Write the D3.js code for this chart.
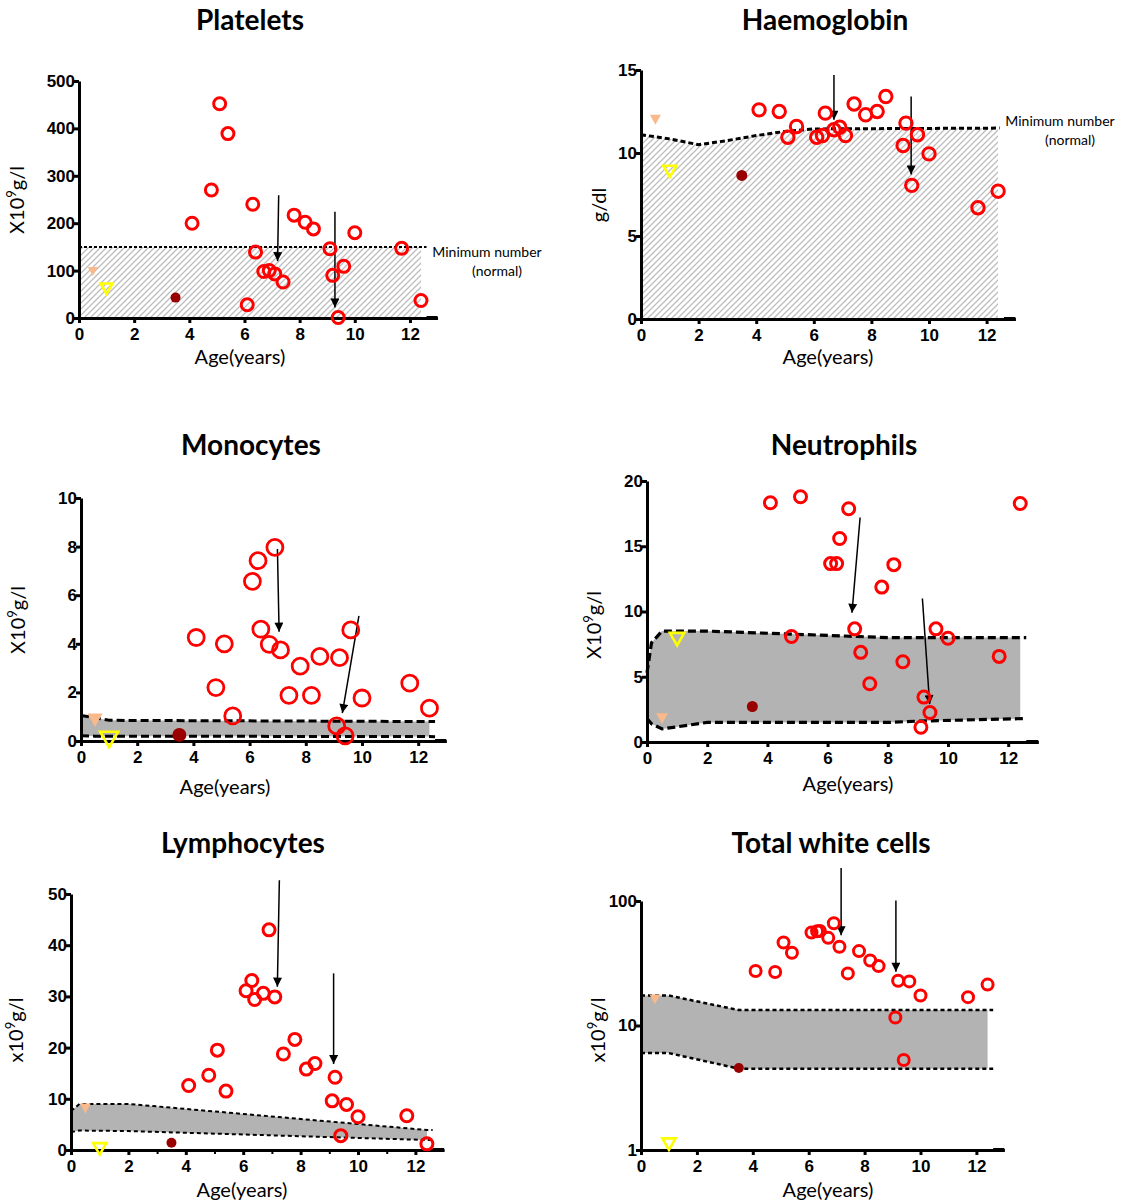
<!DOCTYPE html>
<html>
<head>
  <meta charset="utf-8">
  <title>Blood counts by age</title>
  <style>
    body { margin: 0; background: #fff; }
    svg text { fill: #000; }
    .tick text { font-family: "Liberation Sans", Arial, sans-serif; font-weight: bold; font-size: 17px; }
    .title { font-family: Lato, "Open Sans", sans-serif; font-weight: bold; font-size: 28px; }
    .lab { font-family: Lato, "Open Sans", sans-serif; font-size: 20px; }
    .note { font-family: Lato, "Open Sans", sans-serif; font-size: 14px; }
  </style>
  <script src="https://d3js.org/d3.v7.min.js"></script>
</head>
<body>
<script>
// ages of the 21 follow-up samples (red circles)
const ages = [4.1, 4.8, 5.1, 5.4, 6.1, 6.3, 6.4, 6.7, 6.9, 7.1, 7.4, 7.8, 8.2, 8.5, 9.1, 9.2, 9.4, 9.6, 10.0, 11.7, 12.4];
// early samples: orange triangle, yellow open triangle, dark red dot
const earlyAges = [0.5, 1.0, 3.5];

const plateletVals = [200, 270, 452, 389, 28, 240, 139, 98, 100, 93, 76, 217, 202, 188, 146, 90, 1, 109, 180, 147, 37];
const plateletEarly = [98, 62, 43];
const haemoVals = [12.6, 12.5, 10.95, 11.6, 10.95, 11.05, 12.4, 11.4, 11.55, 11.05, 12.95, 12.3, 12.5, 13.4, 10.45, 11.8, 8.05, 11.1, 9.95, 6.7, 7.7];
const haemoEarly = [12.0, 8.9, 8.65];
const monoVals = [4.26, 2.2, 4.0, 1.03, 6.57, 7.42, 4.6, 3.98, 7.97, 3.75, 1.88, 3.08, 1.88, 3.48, 0.62, 3.43, 0.21, 4.57, 1.77, 2.38, 1.35];
const monoEarly = [0.85, 0.07, 0.25];
const neutroVals = [18.33, 8.08, 18.79, null, 13.67, 13.67, 15.59, 17.87, 8.67, 6.87, 4.46, 11.87, 13.59, 6.15, 1.13, 3.44, 2.26, 8.67, 7.95, 6.56, 18.28];
const neutroEarly = [1.79, 7.9, 2.72];
const lymphoVals = [12.6, 14.6, 19.5, 11.5, 31.1, 33.1, 29.4, 30.6, 43.0, 29.9, 18.75, 21.6, 15.8, 16.9, 9.6, 14.2, 2.8, 8.9, 6.5, 6.7, 1.2];
const lymphoEarly = [8.1, 0.26, 1.43];
const wbcVals = [27.4, 26.9, 46.4, 38.4, 55.8, 57.2, 57.5, 50.6, 66.3, 42.9, 26.2, 39.6, 33.3, 30.0, 11.6, 22.9, 5.28, 22.6, 17.4, 16.9, 21.3];
const wbcEarly = [16.2, 1.12, 4.56];

// normal ranges
const plateletRefX = [0, 12.6];
const plateletRefMin = [150, 150];
const haemoRefX = [0, 1, 2, 3, 4, 5, 6, 12.45];
const haemoRefMin = [11.1, 10.85, 10.5, 10.75, 11.05, 11.3, 11.45, 11.5];
const monoRefX = [0, 0.5, 1, 12.6];
const monoRefHigh = [1.05, 0.95, 0.85, 0.8];
const monoRefLow = [0.22, 0.2, 0.2, 0.18];
const neutroRefX = [0, 0.15, 0.5, 2, 8, 9, 12.6];
const neutroRefHigh = [5.3, 7.6, 8.5, 8.5, 8.0, 8.0, 8.0];
const neutroRefLow = [1.8, 1.4, 1.0, 1.5, 1.5, 1.6, 1.8];
const lymphoRefX = [0, 0.3, 2, 12.4, 12.6];
const lymphoRefHigh = [7.6, 9.0, 9.0, 3.9, 3.9];
const lymphoRefLow = [3.5, 3.8, 3.7, 1.95, 1.95];
const wbcRefX = [0, 1, 3.5, 12.6];
const wbcRefHigh = [17.4, 17.4, 13.3, 13.3];
const wbcRefLow = [6.0, 6.0, 4.5, 4.5];

// arrows [x1, y1, x2, y2]
const plateletArrows = [[7.24, 259, 7.2, 120], [9.28, 224, 9.28, 22]];
const haemoArrows = [[6.7, 14.7, 6.7, 12.0], [9.38, 13.4, 9.38, 8.7]];
const monoArrows = [[6.99, 7.9, 7.05, 4.5], [9.89, 5.15, 9.3, 1.15]];
const neutroArrows = [[7.08, 17.2, 6.81, 9.9], [9.15, 11.0, 9.39, 2.9]];
const lymphoArrows = [[7.26, 52.7, 7.19, 31.9], [9.15, 34.5, 9.15, 16.8]];
const wbcArrows = [[7.16, 184, 7.16, 53], [9.12, 101, 9.12, 27]];

const xTicks = [0, 2, 4, 6, 8, 10, 12];

const panels = [
  { title: "Platelets", tx: 250, ty: 30, x0: 79, pxYr: 27.58, yTop: 81, yBot: 318, yMax: 500, yTicks: [0, 100, 200, 300, 400, 500],
    ylab: ["X10", "g/l"], ylx: 24, yly: 200, agex: 240, agey: 364,
    vals: plateletVals, early: plateletEarly, refX: plateletRefX, refHigh: plateletRefMin, hatch: true,
    arrows: plateletArrows, r: 6, sw: 3, tri: 10, dot: 5, dash: "3,2", dw: 2, note: [487, 257] },
  { title: "Haemoglobin", tx: 825, ty: 30, x0: 641, pxYr: 28.8, yTop: 70, yBot: 319, yMax: 15, yTicks: [0, 5, 10, 15],
    ylab: ["g/dl"], ylx: 606, yly: 205, agex: 828, agey: 364,
    vals: haemoVals, early: haemoEarly, refX: haemoRefX, refHigh: haemoRefMin, hatch: true,
    arrows: haemoArrows, r: 6.2, sw: 3, tri: 11, dot: 5.5, dash: "5,3", dw: 3, note: [1060, 126] },
  { title: "Monocytes", tx: 251, ty: 455, x0: 81, pxYr: 28.1, yTop: 498, yBot: 741, yMax: 10, yTicks: [0, 2, 4, 6, 8, 10],
    ylab: ["X10", "g/l"], ylx: 25, yly: 620, agex: 225, agey: 794,
    vals: monoVals, early: monoEarly, refX: monoRefX, refHigh: monoRefHigh, refLow: monoRefLow,
    arrows: monoArrows, r: 8, sw: 2.8, tri: 15, dot: 7, dash: "8,4", dw: 3 },
  { title: "Neutrophils", tx: 844, ty: 455, x0: 647, pxYr: 30.1, yTop: 481, yBot: 742, yMax: 20, yTicks: [0, 5, 10, 15, 20],
    ylab: ["X10", "g/l"], ylx: 601, yly: 625, agex: 848, agey: 791,
    vals: neutroVals, early: neutroEarly, refX: neutroRefX, refHigh: neutroRefHigh, refLow: neutroRefLow,
    arrows: neutroArrows, r: 6, sw: 3, tri: 12, dot: 5.5, dash: "8,4", dw: 3.2 },
  { title: "Lymphocytes", tx: 243, ty: 853, x0: 71, pxYr: 28.7, yTop: 894, yBot: 1150, yMax: 50, yTicks: [0, 10, 20, 30, 40, 50],
    ylab: ["x10", "g/l"], ylx: 23, yly: 1030, agex: 242, agey: 1197,
    vals: lymphoVals, early: lymphoEarly, refX: lymphoRefX, refHigh: lymphoRefHigh, refLow: lymphoRefLow,
    arrows: lymphoArrows, r: 6, sw: 3, tri: 11, dot: 5, dash: "4,3", dw: 2, minor: true },
  { title: "Total white cells", tx: 831, ty: 853, x0: 641, pxYr: 27.95, yTop: 901, yBot: 1150, yMin: 1, yMax: 100, yTicks: [1, 10, 100], log: true,
    ylab: ["x10", "g/l"], ylx: 605, yly: 1030, agex: 828, agey: 1197,
    vals: wbcVals, early: wbcEarly, refX: wbcRefX, refHigh: wbcRefHigh, refLow: wbcRefLow,
    arrows: wbcArrows, r: 5.5, sw: 3, tri: 11, dot: 5, dash: "4,3", dw: 2.5 }
];

const svg = d3.select("body").append("svg").attr("width", 1125).attr("height", 1203);
const defs = svg.append("defs");
const hatch = defs.append("pattern").attr("id", "hatch").attr("patternUnits", "userSpaceOnUse")
  .attr("width", 6).attr("height", 6);
hatch.append("path").attr("d", "M-1,1 l2,-2 M0,6 l6,-6 M5,7 l2,-2")
  .attr("stroke", "#bdbdbd").attr("stroke-width", 1.3);
defs.append("marker").attr("id", "head").attr("viewBox", "0 0 10 10").attr("refX", 10).attr("refY", 5)
  .attr("markerWidth", 7).attr("markerHeight", 6).attr("markerUnits", "strokeWidth").attr("orient", "auto")
  .append("path").attr("d", "M0,0 L10,5 L0,10 z").attr("fill", "#000");

panels.forEach((p, i) => {
  const g = svg.append("g");
  const x = d3.scaleLinear().domain([0, 13]).range([p.x0, p.x0 + 13 * p.pxYr]);
  const y = p.log
    ? d3.scaleLog().domain([p.yMin, p.yMax]).range([p.yBot, p.yTop])
    : d3.scaleLinear().domain([0, p.yMax]).range([p.yBot, p.yTop]);
  const base = p.log ? p.yMin : 0;

  // clip the normal-range fill at 12.4 years
  defs.append("clipPath").attr("id", "clip" + i).append("rect")
    .attr("x", x(0)).attr("y", 0).attr("width", x(12.4) - x(0)).attr("height", 1203);

  const ref = p.refX.map((d, k) => ({ x: d, hi: p.refHigh[k], lo: p.refLow ? p.refLow[k] : base }));
  const area = d3.area().x(d => x(d.x)).y0(d => y(d.lo)).y1(d => y(d.hi));
  g.append("path").datum(ref).attr("d", area)
    .attr("fill", p.hatch ? "url(#hatch)" : "#b3b3b3")
    .attr("clip-path", `url(#clip${i})`);

  const line = d3.line().x(d => x(d.x));
  g.append("path").datum(ref).attr("d", line.y(d => y(d.hi)))
    .attr("fill", "none").attr("stroke", "#000").attr("stroke-width", p.dw).attr("stroke-dasharray", p.dash);
  if (p.refLow) {
    g.append("path").datum(ref).attr("d", d3.line().x(d => x(d.x)).y(d => y(d.lo)))
      .attr("fill", "none").attr("stroke", "#000").attr("stroke-width", p.dw).attr("stroke-dasharray", p.dash);
  }

  // axes
  const yAxis = d3.axisLeft(y).tickValues(p.yTicks).tickSize(5).tickSizeOuter(0).tickPadding(-1)
    .tickFormat(d3.format("d"));
  const ya = g.append("g").attr("transform", `translate(${p.x0},0)`).call(yAxis);
  const xAxis = d3.axisBottom(x).tickValues(xTicks).tickSize(5).tickSizeOuter(0).tickPadding(3);
  const xa = g.append("g").attr("transform", `translate(0,${p.yBot})`).call(xAxis);
  [ya, xa].forEach(a => {
    a.select(".domain").attr("stroke-width", 3);
    a.selectAll(".tick line").attr("stroke-width", 3);
  });
  xa.selectAll(".tick text").attr("dy", "0.8em");
  if (p.minor) {
    g.append("g").attr("transform", `translate(0,${p.yBot})`)
      .call(d3.axisBottom(x).tickValues([1, 3, 5, 7, 9, 11]).tickSize(4).tickFormat(""))
      .call(a => a.select(".domain").remove())
      .selectAll("line").attr("stroke-width", 2);
  }
  // thick end segment of the x axis
  g.append("line").attr("x1", x(12.6)).attr("x2", x(13)).attr("y1", p.yBot).attr("y2", p.yBot)
    .attr("stroke", "#000").attr("stroke-width", 4);

  // arrows
  g.selectAll(".arrow").data(p.arrows).join("line")
    .attr("x1", d => x(d[0])).attr("y1", d => y(d[1]))
    .attr("x2", d => x(d[2])).attr("y2", d => y(d[3]))
    .attr("stroke", "#000").attr("stroke-width", 1.5).attr("marker-end", "url(#head)");

  // follow-up samples
  const pts = ages.map((a, k) => ({ x: a, v: p.vals[k] })).filter(d => d.v != null);
  g.selectAll(".pt").data(pts).join("circle")
    .attr("cx", d => x(d.x)).attr("cy", d => y(d.v)).attr("r", p.r)
    .attr("fill", "none").attr("stroke", "#ff0000").attr("stroke-width", p.sw);

  // early samples
  const t = p.tri;
  const triPath = `M${-t / 2},${-t * 0.45} L${t / 2},${-t * 0.45} L0,${t * 0.45} Z`;
  g.append("path").attr("d", triPath)
    .attr("transform", `translate(${x(earlyAges[0])},${y(p.early[0])})`)
    .attr("fill", "#f9b98b");
  const t2 = t * 1.2;
  g.append("path").attr("d", `M${-t2 / 2},${-t2 * 0.42} L${t2 / 2},${-t2 * 0.42} L0,${t2 * 0.45} Z`)
    .attr("transform", `translate(${x(earlyAges[1])},${y(p.early[1])})`)
    .attr("fill", "none").attr("stroke", "#ffff00").attr("stroke-width", 2.6).attr("stroke-linejoin", "miter");
  g.append("circle").attr("cx", x(earlyAges[2])).attr("cy", y(p.early[2])).attr("r", p.dot)
    .attr("fill", "#990000");

  // labels
  g.append("text").attr("class", "title").attr("x", p.tx).attr("y", p.ty).attr("text-anchor", "middle").text(p.title);
  g.append("text").attr("class", "lab").attr("x", p.agex).attr("y", p.agey).attr("text-anchor", "middle").text("Age(years)");
  const yl = g.append("text").attr("class", "lab").attr("text-anchor", "middle")
    .attr("transform", `translate(${p.ylx},${p.yly}) rotate(-90)`);
  yl.append("tspan").text(p.ylab[0]);
  if (p.ylab.length > 1) {
    yl.append("tspan").attr("font-size", 13).attr("dy", -8).text("9");
    yl.append("tspan").attr("dy", 8).text(p.ylab[1]);
  }
  if (p.note) {
    const n = g.append("text").attr("class", "note").attr("text-anchor", "middle");
    n.append("tspan").attr("x", p.note[0]).attr("y", p.note[1]).text("Minimum number");
    n.append("tspan").attr("x", p.note[0] + 10).attr("y", p.note[1] + 19).text("(normal)");
  }
});
</script>
</body>
</html>
